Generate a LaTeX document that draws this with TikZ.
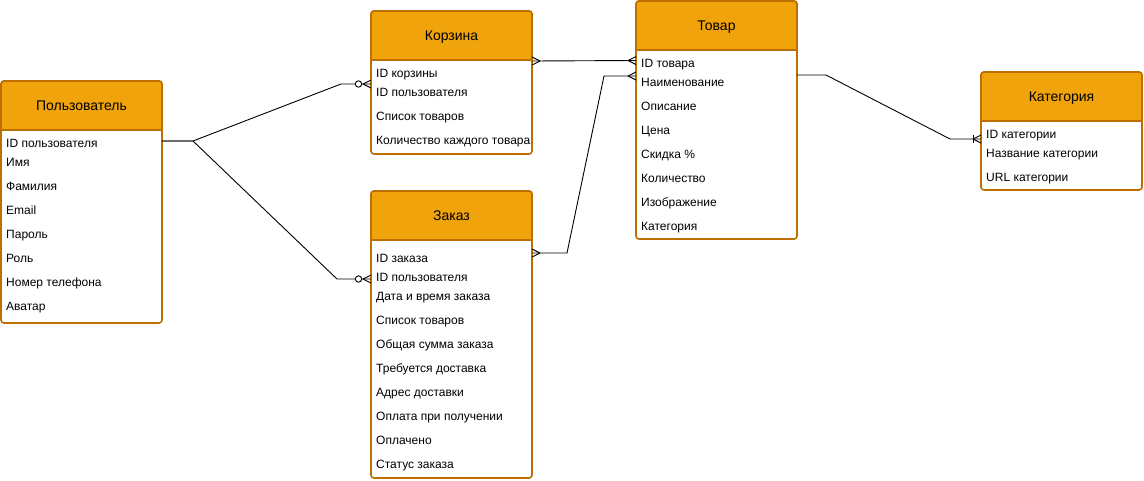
\documentclass[tikz,border=0pt]{standalone}
\usepackage{fontspec}
\setmainfont{Liberation Sans}
\usetikzlibrary{calc}
\definecolor{eline}{HTML}{BD7000}
\definecolor{efill}{HTML}{F0A30A}
\tikzset{
  ebox/.style={draw=eline, fill=white, line width=1.6pt, rounded corners=3pt, inner sep=0pt, outer sep=0pt},
  ehead/.style={draw=eline, fill=efill, line width=1.6pt},
  etitle/.style={font=\fontsize{14}{16}\selectfont, inner sep=0pt, anchor=base},
  erow/.style={font=\fontsize{12}{14}\selectfont, anchor=base west, inner sep=0pt},
  conn/.style={draw=black, line width=0.9pt},
}
% name, x, y, w, h, title
\newcommand\erbox[6]{%
  \node[ebox, minimum width=#4pt, minimum height=#5pt, anchor=north west] (#1) at (#2,#3) {};
  \filldraw[ehead] (#2,#3+49) {[rounded corners=3pt] -- (#2,#3) -- (#2+#4,#3)} -- (#2+#4,#3+49) -- cycle;
  \node[etitle] (#1t) at (#2+#4/2,#3+29.5) {#6};
}
\newcommand\manyL[1]{\draw[conn] ($(#1)+(-8,0)$) -- ($(#1)+(0,-4)$) ($(#1)+(-8,0)$) -- ($(#1)+(0,4)$);}
\newcommand\manyR[1]{\draw[conn] ($(#1)+(8,0)$) -- ($(#1)+(0,-4)$) ($(#1)+(8,0)$) -- ($(#1)+(0,4)$);}
\newcommand\zeroL[1]{\draw[conn, fill=white] ($(#1)+(-12.5,0)$) circle[radius=3.2pt];}
\newcommand\oneL[1]{\draw[conn] ($(#1)+(-8,-4)$) -- ($(#1)+(-8,4)$);}
\begin{document}
\begin{tikzpicture}[x=1pt, y=-1pt]
\useasboundingbox (0,0) rectangle (1144,480);

\erbox{user}{1}{81}{161}{242}{Пользователь}
\node[erow] (u1) at (6,147.5) {ID пользователя};
\node[erow] (u2) at (6,166.5) {Имя};
\node[erow] (u3) at (6,190.5) {Фамилия};
\node[erow] (u4) at (6,214.5) {Email};
\node[erow] (u5) at (6,238.5) {Пароль};
\node[erow] (u6) at (6,262.5) {Роль};
\node[erow] (u7) at (6,286.5) {Номер телефона};
\node[erow] (u8) at (6,310.5) {Аватар};

\erbox{cart}{371}{11}{161}{143}{Корзина}
\node[erow] (k1) at (376,77.5) {ID корзины};
\node[erow] (k2) at (376,96.5) {ID пользователя};
\node[erow] (k3) at (376,120.5) {Список товаров};
\node[erow] (k4) at (376,144.5) {Количество каждого товара};

\erbox{order}{371}{191}{161}{287}{Заказ}
\node[erow] (o1) at (376,262.5) {ID заказа};
\node[erow] (o2) at (376,281.5) {ID пользователя};
\node[erow] (o3) at (376,300.5) {Дата и время заказа};
\node[erow] (o4) at (376,324.5) {Список товаров};
\node[erow] (o5) at (376,348.5) {Общая сумма заказа};
\node[erow] (o6) at (376,372.5) {Требуется доставка};
\node[erow] (o7) at (376,396.5) {Адрес доставки};
\node[erow] (o8) at (376,420.5) {Оплата при получении};
\node[erow] (o9) at (376,444.5) {Оплачено};
\node[erow] (o10) at (376,468.5) {Статус заказа};

\erbox{tovar}{636}{1}{161}{238}{Товар}
\node[erow] (t1) at (641,67.5) {ID товара};
\node[erow] (t2) at (641,86.5) {Наименование};
\node[erow] (t3) at (641,110.5) {Описание};
\node[erow] (t4) at (641,134.5) {Цена};
\node[erow] (t5) at (641,158.5) {Скидка \%};
\node[erow] (t6) at (641,182.5) {Количество};
\node[erow] (t7) at (641,206.5) {Изображение};
\node[erow] (t8) at (641,230.5) {Категория};

\erbox{cat}{981}{72}{161}{118}{Категория}
\node[erow] (c1) at (986,138.5) {ID категории};
\node[erow] (c2) at (986,157.5) {Название категории};
\node[erow] (c3) at (986,181.5) {URL категории};

% connection points
\coordinate (us) at (user.east |- 0,141);
\coordinate (ck) at (cart.west |- 0,84);
\coordinate (oz) at (order.west |- 0,279);
\coordinate (ce) at (cart.east |- 0,61);
\coordinate (tw1) at (tovar.west |- 0,60.5);
\coordinate (oe) at (order.east |- 0,253);
\coordinate (tw2) at (tovar.west |- 0,76);
\coordinate (te) at (tovar.east |- 0,75);
\coordinate (cw) at (cat.west |- 0,139);

\draw[conn] (us) -- (193,141) -- (341,84) -- (ck);
\draw[conn] (us) -- (193,141) -- (337,279) -- (oz);
\draw[conn] (ce) -- (tw1);
\draw[conn] (oe) -- (567,253) -- (604,76) -- (tw2);
\draw[conn] (te) -- (826,75) -- (950,139) -- (cw);

\manyL{ck}\zeroL{ck}
\manyL{oz}\zeroL{oz}
\manyR{ce}\manyL{tw1}
\manyR{oe}\manyL{tw2}
\manyL{cw}\oneL{cw}
\end{tikzpicture}
\end{document}
